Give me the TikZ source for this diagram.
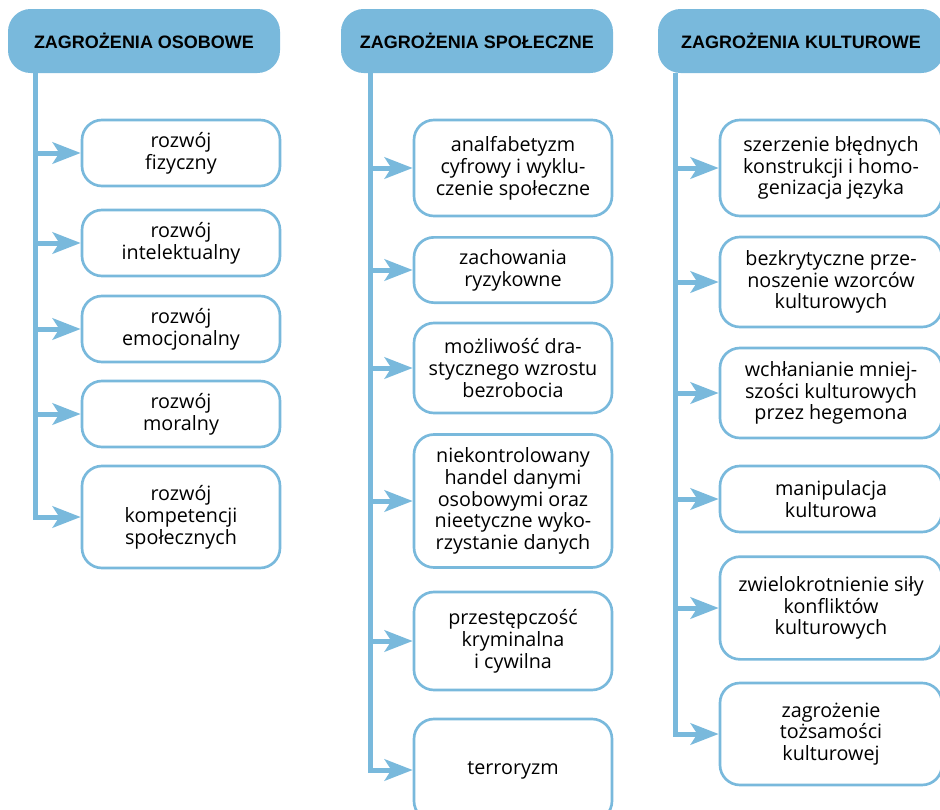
\documentclass[tikz,border=0pt]{standalone}
\usepackage{fontspec}
\setmainfont{Open Sans}
\newfontfamily\headfont{Liberation Sans}
\usetikzlibrary{arrows.meta,positioning}
\definecolor{zblue}{HTML}{79B9DC}

\tikzset{
  head/.style={fill=zblue,rounded corners=17pt,minimum height=48pt,inner sep=0pt,font=\headfont\bfseries\fontsize{13.5}{16}\selectfont},
  threat/.style={draw=zblue,line width=2pt,fill=white,rounded corners=15pt,inner sep=0pt,align=center,font=\fontsize{14.8}{16.4}\selectfont},
  trunk/.style={draw=zblue,line width=3.75pt},
  arr/.style={draw=zblue,line width=3.75pt,-{Stealth[length=21pt,width=16pt,inset=5pt]}}
}

\begin{document}
\begin{tikzpicture}[x=0.75pt,y=-0.75pt]
\useasboundingbox (0,0) rectangle (940,810);
\clip (0,0) rectangle (940,810);

\node[head,minimum width=204pt] (h1) at (144,41) {ZAGROŻENIA OSOBOWE};
\node[head,minimum width=204pt] (h2) at (477,41) {ZAGROŻENIA SPOŁECZNE};
\node[head,minimum width=214.5pt] (h3) at (801,41) {ZAGROŻENIA KULTUROWE};

\coordinate (t1) at (35,73);\coordinate (t2) at (370,73);\coordinate (t3) at (675,73);

\node[threat,minimum width=148.5pt,minimum height=49.5pt] (b11) at (181,153) {rozwój\\fizyczny};
\node[threat,minimum width=148.5pt,minimum height=49.5pt] (b12) at (181,243) {rozwój\\intelektualny};
\node[threat,minimum width=148.5pt,minimum height=49.5pt] (b13) at (181,329) {rozwój\\emocjonalny};
\node[threat,minimum width=148.5pt,minimum height=49.5pt] (b14) at (181,414) {rozwój\\moralny};
\node[threat,minimum width=148.5pt,minimum height=76.5pt] (b15) at (181,517) {rozwój\\kompetencji\\społecznych};

%second
\node[threat,minimum width=148.5pt,minimum height=72pt] (b21) at (513,168) {analfabetyzm\\cyfrowy i wyklu-\\czenie społeczne};
\node[threat,minimum width=148.5pt,minimum height=49pt] (b22) at (513,270) {zachowania\\ryzykowne};
\node[threat,minimum width=148.5pt,minimum height=67.5pt] (b23) at (513,368) {możliwość dra-\\stycznego wzrostu\\bezrobocia};
\node[threat,minimum width=148.5pt,minimum height=99.75pt] (b24) at (513,501) {niekontrolowany\\handel danymi\\osobowymi oraz\\nieetyczne wyko-\\rzystanie danych};
\node[threat,minimum width=148.5pt,minimum height=73.5pt] (b25) at (513,641) {przestępczość\\kryminalna\\i cywilna};
\node[threat,minimum width=148.5pt,minimum height=76.5pt] (b26) at (513,770) {terroryzm};

%third
\node[threat,minimum width=166.5pt,minimum height=72pt] (b31) at (831,168) {szerzenie błędnych\\konstrukcji i homo-\\genizacja języka};
\node[threat,minimum width=166.5pt,minimum height=67.5pt] (b32) at (831,282) {bezkrytyczne prze-\\noszenie wzorców\\kulturowych};
\node[threat,minimum width=166.5pt,minimum height=67.5pt] (b33) at (831,393) {wchłanianie mniej-\\szości kulturowych\\przez hegemona};
\node[threat,minimum width=166.5pt,minimum height=49.5pt] (b34) at (831,499) {manipulacja\\kulturowa};
\node[threat,minimum width=166.5pt,minimum height=77pt] (b35) at (831,608) {zwielokrotnienie siły\\konfliktów\\kulturowych};
\node[threat,minimum width=166.5pt,minimum height=76.5pt] (b36) at (831,734) {zagrożenie\\tożsamości\\kulturowej};

\draw[arr] (b11.west -| t1) -- (b11.west);\draw[arr] (b12.west -| t1) -- (b12.west);\draw[arr] (b13.west -| t1) -- (b13.west);\draw[arr] (b14.west -| t1) -- (b14.west);
\draw[arr] (t1) |- (b15.west);

\draw[arr] (b21.west -| t2) -- (b21.west);\draw[arr] (b22.west -| t2) -- (b22.west);\draw[arr] (b23.west -| t2) -- (b23.west);\draw[arr] (b24.west -| t2) -- (b24.west);\draw[arr] (b25.west -| t2) -- (b25.west);
\draw[arr] (t2) |- (b26.west);

\draw[arr] (b31.west -| t3) -- (b31.west);\draw[arr] (b32.west -| t3) -- (b32.west);\draw[arr] (b33.west -| t3) -- (b33.west);\draw[arr] (b34.west -| t3) -- (b34.west);\draw[arr] (b35.west -| t3) -- (b35.west);
\draw[arr] (t3) |- (b36.west);

\end{tikzpicture}
\end{document}
